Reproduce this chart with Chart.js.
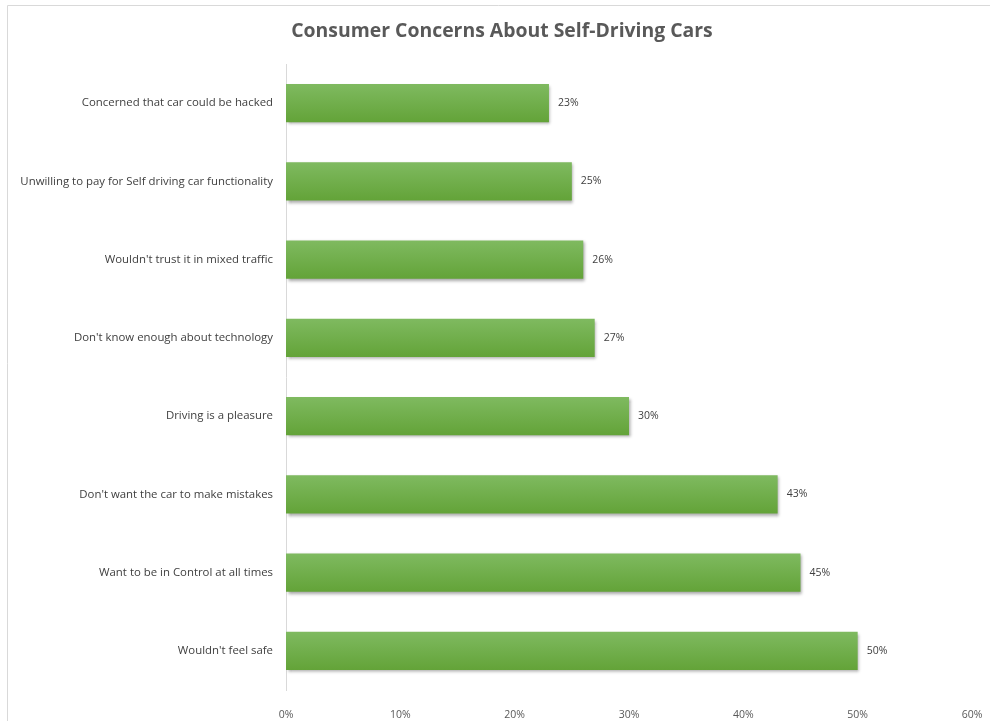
<!DOCTYPE html>
<html>
<head>
<meta charset="utf-8">
<title>Consumer Concerns About Self-Driving Cars</title>
<script src="https://cdn.jsdelivr.net/npm/chart.js@4.4.1/dist/chart.umd.min.js"></script>
<style>
  html, body { margin: 0; padding: 0; background: #ffffff; }
  #wrap { position: relative; width: 990px; height: 721px; }
  canvas { display: block; }
</style>
</head>
<body>
<div id="wrap"><canvas id="chart" width="990" height="721"></canvas></div>
<script>
// Survey answers, listed top to bottom as shown
const concerns = [
  "Concerned that car could be hacked",
  "Unwilling to pay for Self driving car functionality",
  "Wouldn't trust it in mixed traffic",
  "Don't know enough about technology",
  "Driving is a pleasure",
  "Don't want the car to make mistakes",
  "Want to be in Control at all times",
  "Wouldn't feel safe"
];
// Share of respondents (%)
const shares = [23, 25, 26, 27, 30, 43, 45, 50];
// Horizontal axis range and step (%)
const axisMax = 60;
const axisStep = 10;

const titleText = "Consumer Concerns About Self-Driving Cars";
const BAR_PCT = 0.49;
const FONT = "'Open Sans', 'Liberation Sans', sans-serif";

// Vertical green gradient for each bar, computed from the category scale
function barFill(ctx) {
  const chart = ctx.chart;
  const y = chart.scales && chart.scales.y;
  if (!y || ctx.dataIndex === undefined) return '#6fae48';
  const c = y.getPixelForValue(ctx.dataIndex);
  const half = (y.height / concerns.length) * BAR_PCT / 2;
  if (!isFinite(c) || !isFinite(half) || half <= 0) return '#6fae48';
  const g = chart.ctx.createLinearGradient(0, c - half, 0, c + half);
  g.addColorStop(0, '#7fba60');
  g.addColorStop(1, '#63a338');
  return g;
}

const decor = {
  id: 'decor',
  beforeDraw(chart) {
    const c = chart.ctx;
    c.save();
    // outer frame (left and top edges)
    c.strokeStyle = '#d9d9d9';
    c.lineWidth = 1;
    c.beginPath();
    c.moveTo(7.5, 721);
    c.lineTo(7.5, 5.5);
    c.lineTo(990, 5.5);
    c.stroke();
    // title
    c.fillStyle = '#595959';
    c.font = "bold 19.4px " + FONT;
    c.textAlign = 'center';
    c.textBaseline = 'middle';
    c.fillText(titleText, 502, 31);
    c.restore();
  },
  beforeDatasetsDraw(chart) {
    const c = chart.ctx;
    c.save();
    c.shadowColor = 'rgba(0,0,0,0.35)';
    c.shadowBlur = 3;
    c.shadowOffsetX = 1.5;
    c.shadowOffsetY = 2;
  },
  afterDatasetsDraw(chart) {
    const c = chart.ctx;
    c.restore();
    // value labels at the end of each bar
    c.save();
    c.fillStyle = '#404040';
    c.font = "10.5px " + FONT;
    c.textAlign = 'left';
    c.textBaseline = 'middle';
    const meta = chart.getDatasetMeta(0);
    meta.data.forEach((bar, i) => {
      c.fillText(shares[i] + '%', bar.x + 9, bar.y);
    });
    c.restore();
  }
};

new Chart(document.getElementById('chart'), {
  type: 'bar',
  data: {
    labels: concerns,
    datasets: [{
      data: shares,
      backgroundColor: barFill,
      borderWidth: 0,
      categoryPercentage: 1,
      barPercentage: BAR_PCT
    }]
  },
  options: {
    indexAxis: 'y',
    responsive: false,
    animation: false,
    events: [],
    layout: { padding: { left: 0, right: 18, top: 64, bottom: 0 } },
    plugins: {
      legend: { display: false },
      title: { display: false },
      tooltip: { enabled: false }
    },
    scales: {
      x: {
        min: 0,
        max: axisMax,
        grid: { display: false },
        border: { display: false },
        ticks: {
          stepSize: axisStep,
          padding: 11,
          color: '#595959',
          font: { family: FONT, size: 10.5 },
          callback: v => v + '%'
        },
        afterFit(scale) {
          scale.height = 31;
          scale.paddingLeft = 0;
          scale.paddingRight = 0;
        }
      },
      y: {
        grid: { display: false, drawTicks: false },
        border: { display: true, color: '#d9d9d9', width: 1 },
        ticks: {
          padding: 13,
          color: '#404040',
          font: { family: FONT, size: 11.4 }
        },
        afterFit(scale) { scale.width = 286; }
      }
    }
  },
  plugins: [decor]
});
</script>
</body>
</html>
